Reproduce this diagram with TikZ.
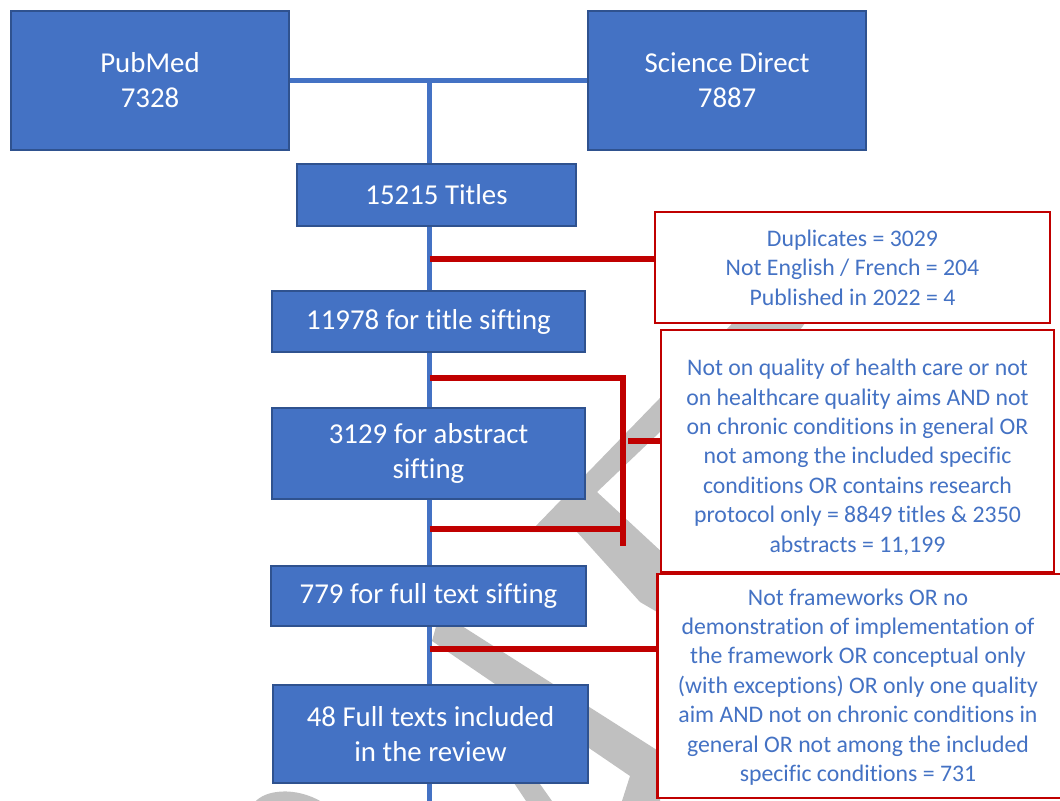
\documentclass[tikz,border=0pt]{standalone}
\usepackage{fontspec}
\setmainfont{Carlito}[Ligatures=NoCommon]
\usetikzlibrary{positioning,backgrounds}
\definecolor{boxblue}{HTML}{4472C4}
\definecolor{edgeblue}{HTML}{2F528F}
\definecolor{cutred}{HTML}{C00000}
\definecolor{markgray}{HTML}{C0C0C0}

\begin{document}
\begin{tikzpicture}[x=0.025cm, y=-0.025cm]
  \tikzset{stage/.style={draw=edgeblue, fill=boxblue, line width=1.4pt, text=white, align=center, inner sep=0pt, font=\fontsize{20.5}{24.9}\selectfont},
    cut/.style={draw=cutred, fill=white, line width=1.8pt, text=boxblue, align=center, inner sep=0pt, font=\fontsize{16.9}{20.9}\selectfont},
    flow/.style={boxblue, line width=3.3pt},
    drop/.style={cutred, line width=4pt}}
  \useasboundingbox (0,0) rectangle (1060,801);
  % faint watermark behind everything
  \begin{scope}[on background layer]
    \fill[markgray] (755,300) -- (822,300) -- (800,330) -- (660,432) -- (597,492) -- (705,592) -- (705,640) -- (640,602) -- (577,532) -- (530,532) -- cycle;
    \fill[markgray] (440,612) -- (660,752) -- (660,801) -- (622,801) -- (630,776) -- (432,641) -- cycle;
    \fill[markgray] (510,777) -- (535,777) -- (552,801) -- (526,801) -- cycle;
    \fill[markgray] (255,802) .. controls (265,790) and (295,786) .. (322,802) -- cycle;
  \end{scope}
  % sources
  \node[stage, minimum width=6.95cm, minimum height=3.475cm] (pubmed) at (150,80.5) {PubMed\\7328};
  \node[stage, minimum width=6.95cm, minimum height=3.475cm, right=7.425cm of pubmed] (scidir) {Science Direct\\7887};
  % screening steps
  \node[stage, minimum width=7.825cm, minimum height=1.525cm] (tsift) at (428.5,321.5) {11978 for title sifting};
  \node[stage, minimum width=6.975cm, minimum height=1.55cm, above=1.575cm of tsift, xshift=0.2cm] (titles) {15215 Titles};
  \node[stage, minimum width=7.825cm, minimum height=2.275cm, below=1.35cm of tsift] (asift) {3129 for abstract\\sifting};
  \node[stage, minimum width=7.85cm, minimum height=1.5cm, below=1.625cm of asift] (fsift) {779 for full text sifting};
  \node[stage, minimum width=7.85cm, minimum height=2.45cm, below=1.425cm of fsift, xshift=0.05cm] (incl) {48 Full texts included\\in the review};
  % exclusions
  \node[cut, minimum width=9.875cm, minimum height=2.775cm] (dup) at (852.5,267.5) {Duplicates = 3029\\Not English / French = 204\\Published in 2022 = 4};
  \node[cut, minimum width=9.825cm, minimum height=6.05cm] (scope) at (857.5,451) {\rule{0pt}{20.5pt}Not on quality of health care or not\\on healthcare quality aims AND not\\on chronic conditions in general OR\\not among the included specific\\conditions OR contains research\\protocol only = 8849 titles \& 2350\\abstracts = 11,199};
  % last box runs off the right edge
  \node[cut, minimum width=12cm, minimum height=5.6cm, anchor=west] (frame) at (656,686) {};
  \node[cut, draw=none, fill=none] (framenote) at (858,687) {Not frameworks OR no\\demonstration of implementation of\\the framework OR conceptual only\\(with exceptions) OR only one quality\\aim AND not on chronic conditions in\\general OR not among the included\\specific conditions = 731};
  % blue trunk
  \coordinate (fork) at (429.5,80.5);
  \coordinate (foot) at (429.5,801);
  \begin{scope}[on background layer]
    \draw[flow] (pubmed.east) -- (scidir.west);
    \draw[flow] (fork) -- (foot);
  \end{scope}
  % red side branches
  \coordinate (d1) at (429.5,259);
  \coordinate (b1) at (429.5,378);
  \coordinate (b2) at (429.5,529);
  \coordinate (bx) at (623,546);
  \coordinate (s2) at (628,441);
  \coordinate (d3) at (429.5,649);
  \draw[drop] (d1) -- (d1 -| dup.west);
  \draw[drop] (b1) -| (bx);
  \draw[drop] (b2) -- (b2 -| bx);
  \draw[drop] (s2) -- (s2 -| scope.west);
  \draw[drop] (d3) -- (d3 -| frame.west);
\end{tikzpicture}
\end{document}
